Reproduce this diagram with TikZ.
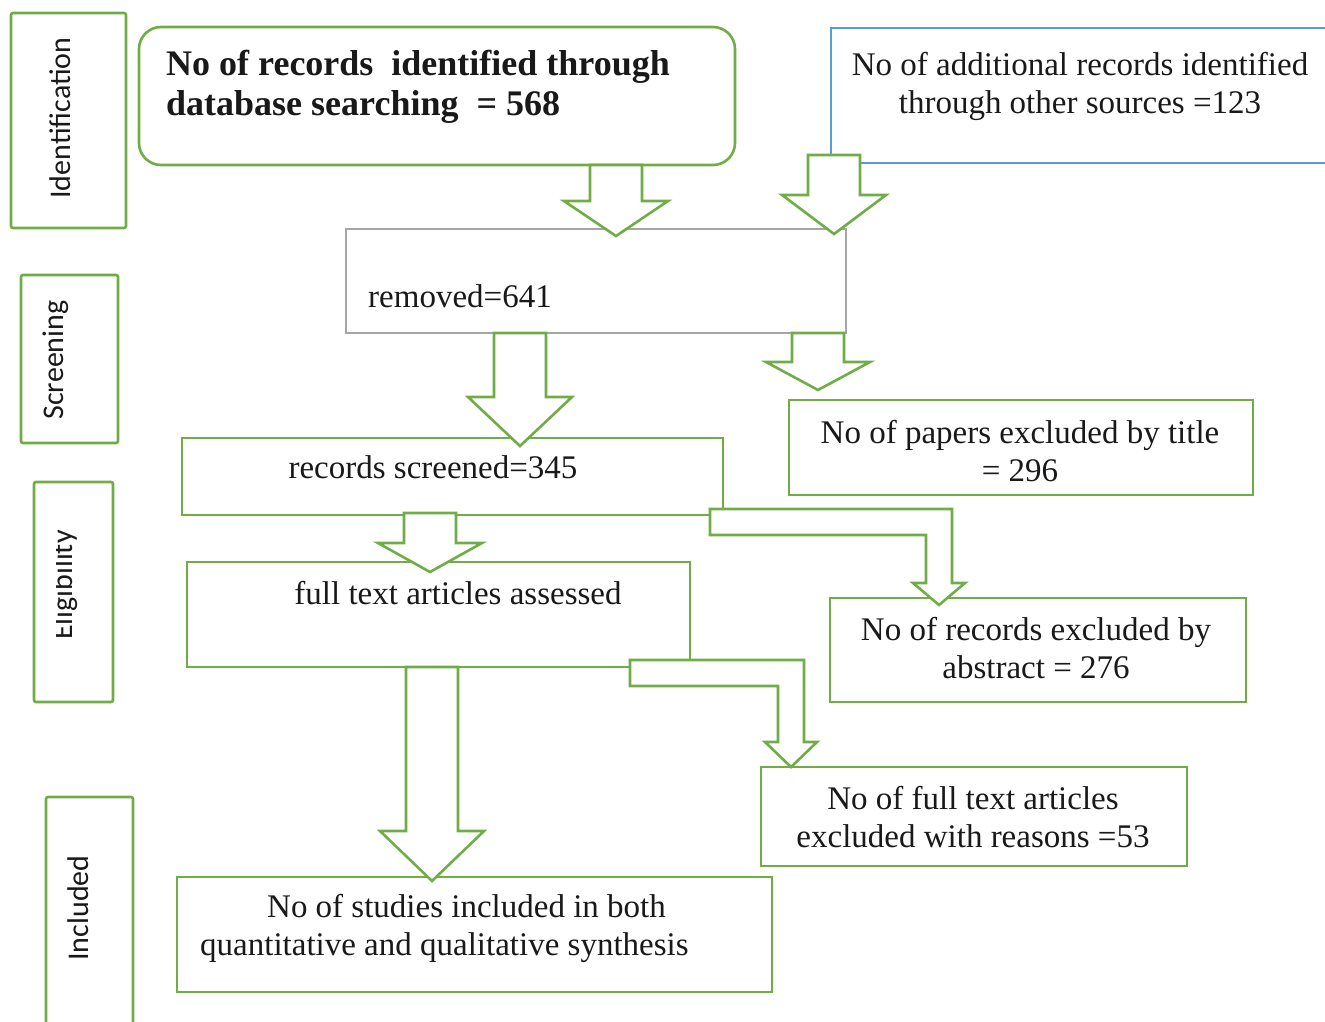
\documentclass[tikz,border=0pt]{standalone}
\usepackage{fontspec}
\setmainfont{Liberation Serif}
\newfontfamily\sidefont{Carlito}
\usetikzlibrary{calc}
\definecolor{gr}{RGB}{112,173,71}
\definecolor{bl}{RGB}{91,155,213}
\definecolor{gy}{RGB}{165,165,165}
\definecolor{tx}{RGB}{25,25,25}
% vertical block arrow: start (shaft top), tip, head length
\newcommand\vbarrow[3]{%
  \draw[barrow] let \p1=(#1), \p2=(#2) in
    (\x2-26pt,\y1) -- (\x2+26pt,\y1) -- (\x2+26pt,\y2+#3pt) -- (\x2+52pt,\y2+#3pt)
    -- (\x2,\y2) -- (\x2-52pt,\y2+#3pt) -- (\x2-26pt,\y2+#3pt) -- cycle;}
% bent block arrow: start (left end, band centre), tip, head length
\newcommand\bentarrow[3]{%
  \draw[barrow] let \p1=(#1), \p2=(#2) in
    (\x1,\y1+13pt) -- (\x2+13pt,\y1+13pt) -- (\x2+13pt,\y2+#3pt) -- (\x2+26pt,\y2+#3pt)
    -- (\x2,\y2) -- (\x2-26pt,\y2+#3pt) -- (\x2-13pt,\y2+#3pt) -- (\x2-13pt,\y1-13pt)
    -- (\x1,\y1-13pt) -- cycle;}
\begin{document}
\begin{tikzpicture}[x=1pt,y=-1pt,
  gbox/.style={draw=gr, line width=2.6pt, inner sep=0pt, outer sep=0pt, anchor=north west},
  sbox/.style={gbox, rounded corners=2pt},
  barrow/.style={draw=gr, line width=2.6pt, fill=white, line join=miter},
  txt/.style={font=\fontsize{33}{38}\selectfont, align=center, inner sep=0pt, text=tx},
  side/.style={font=\sidefont\fontsize{30}{36}\selectfont, rotate=90, anchor=base, inner sep=0pt, text=tx}]
\useasboundingbox (0,0) rectangle (1325,1022);
\clip (0,0) rectangle (1325,1022);
\fill[white] (0,0) rectangle (1325,1022);

% stage boxes
\node[sbox, minimum width=115pt, minimum height=215pt] (Sid) at (11,13) {};
\node[sbox, minimum width=97pt, minimum height=168pt] (Ssc) at (21,275) {};
\node[sbox, minimum width=79pt, minimum height=220pt] (Sel) at (34,482) {};
\node[sbox, minimum width=87pt, minimum height=250pt] (Sin) at (46,797) {};
\node[side] (Lid) at (70,118) {Identification};
\node[side] (Lsc) at (63,360) {Screening};
\begin{scope}
  \clip (56,485) rectangle (110,700);
  \node[side] (Lel) at (72,585) {Eligibility};
\end{scope}
\node[side] (Lin) at (88,908) {Included};

% main boxes
\node[gbox, rounded corners=22pt, minimum width=596pt, minimum height=138pt] (A) at (139,27) {};
\node[draw=bl, line width=2pt, inner sep=0pt, outer sep=0pt, anchor=north west,
      minimum width=520pt, minimum height=135pt] (B) at (831,28) {};
\node[draw=gy, line width=2pt, inner sep=0pt, outer sep=0pt, anchor=north west,
      minimum width=500pt, minimum height=104pt] (C) at (346,229) {};
\node[gbox, minimum width=541pt, minimum height=77pt] (D) at (182,438) {};
\node[gbox, minimum width=464pt, minimum height=95pt] (E) at (789,400) {};
\node[gbox, minimum width=503pt, minimum height=105pt] (F) at (187,562) {};
\node[gbox, minimum width=416pt, minimum height=104pt] (G) at (830,598) {};
\node[gbox, minimum width=426pt, minimum height=99pt] (H) at (761,767) {};
\node[gbox, minimum width=595pt, minimum height=115pt] (I) at (177,877) {};

% texts
\node[anchor=west, align=left, inner sep=0pt, text=tx, font=\bfseries\fontsize{36}{40}\selectfont] (At) at (166,87)
  {No of records\ \ identified through\\database searching\ \ = 568};
\node[txt] (Bt) at (1080,86) {No of additional records identified\\through other sources =123};
\node[txt, anchor=west] (Ct) at (368,296) {removed=641};
\node[txt] (Dt) at (433,467) {records screened=345};
\node[txt] (Et) at (1020,451) {No of papers excluded by title\\= 296};
\node[txt] (Ft) at (458,593) {full text articles assessed};
\node[txt] (Gt) at (1036,648) {No of records excluded by\\abstract = 276};
\node[txt] (Ht) at (973,817) {No of full text articles\\excluded with reasons =53};
\node[txt, anchor=west, align=left] (It) at (200,928) {\hspace*{67pt}No of studies included in both\\quantitative and qualitative synthesis};

% arrow tips and free ends
\coordinate (t1) at (616,236);
\coordinate (t2) at (834,234);
\coordinate (t3) at (520,446);
\coordinate (t4) at (818,390);
\coordinate (t5) at (430,572);
\coordinate (t6) at (939,605);
\coordinate (t7) at (791,767);
\coordinate (t8) at (432,881);
\coordinate (s6) at (710,522);
\coordinate (s7) at (630,673);

% block arrows
\vbarrow{A.south}{t1}{35}
\vbarrow{$(B.south west)+(0,-8)$}{t2}{39}
\vbarrow{C.south}{t3}{49}
\vbarrow{C.south}{t4}{28}
\vbarrow{$(D.south)+(0,-2)$}{t5}{29}
\bentarrow{s6}{t6}{22}
\bentarrow{s7}{t7}{25}
\vbarrow{F.south}{t8}{50}
\end{tikzpicture}
\end{document}
